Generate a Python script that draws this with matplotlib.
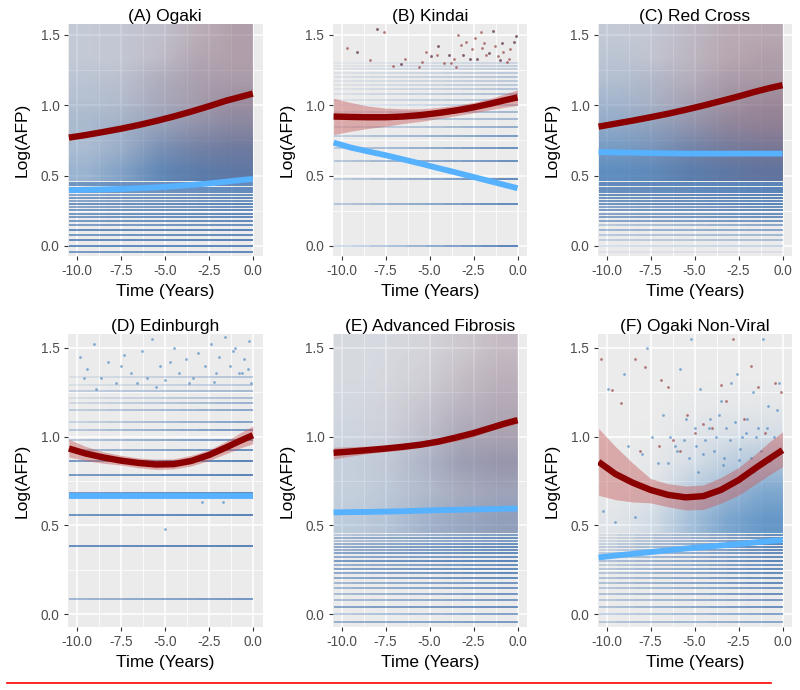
import matplotlib
matplotlib.use("Agg")
from matplotlib import pyplot as plt
from matplotlib.collections import LineCollection
from matplotlib.colors import LinearSegmentedColormap
from matplotlib.lines import Line2D

plt.rcParams['font.family'] = ['Liberation Sans', 'DejaVu Sans']

titles = ['(A) Ogaki', '(B) Kindai', '(C) Red Cross',
          '(D) Edinburgh', '(E) Advanced Fibrosis', '(F) Ogaki Non-Viral']

# smooth curves, read at these times
curve_x = [-10.45, -9.5, -8.5, -7.5, -6.5, -5.5, -4.5, -3.5, -2.5, -1.5, -.75, 0]
red_a = [.77, .788, .81, .833, .859, .888, .92, .955, .993, 1.033, 1.058, 1.083]
red_b = [.92, .917, .915, .915, .92, .93, .945, .963, .985, 1.012, 1.035, 1.056]
red_c = [.848, .869, .891, .915, .94, .968, .998, 1.03, 1.063, 1.098, 1.122, 1.143]
red_d = [.933, .905, .883, .865, .852, .843, .845, .863, .896, .94, .975, 1.008]
red_e = [.909, .916, .924, .933, .943, .955, .972, .995, 1.02, 1.05, 1.073, 1.093]
red_f = [.858, .79, .74, .70, .672, .658, .665, .70, .755, .825, .875, .924]
blue_a = [.396, .399, .402, .405, .41, .416, .424, .433, .444, .457, .467, .476]
blue_b = [.735, .70, .672, .645, .615, .585, .553, .522, .49, .458, .434, .41]
blue_c = [.668, .665, .663, .66, .658, .656, .656, .656, .656, .656, .656, .656]
blue_d = [.665, .665, .665, .665, .665, .665, .665, .665, .665, .665, .665, .665]
blue_e = [.573, .575, .576, .578, .58, .583, .586, .588, .59, .592, .594, .595]
blue_f = [.32, .33, .34, .35, .36, .37, .378, .387, .395, .405, .412, .417]

# ribbons round the red curve (the others are too thin to matter)
upper_b = [1.05, 1.02, .995, .98, .975, .975, .985, 1.0, 1.02, 1.05, 1.08, 1.11]
lower_b = [.79, .815, .835, .85, .87, .885, .905, .925, .947, .97, .985, 1.0]
upper_d = [.985, .945, .915, .895, .88, .873, .875, .895, .925, .975, 1.02, 1.06]
lower_d = [.885, .865, .85, .84, .825, .815, .818, .835, .865, .905, .935, .96]
upper_e = [.94, .943, .947, .95, .96, .975, .99, 1.015, 1.04, 1.07, 1.09, 1.11]
lower_e = [.875, .89, .905, .915, .925, .94, .955, .975, 1.0, 1.035, 1.055, 1.075]
upper_f = [1.046, .945, .85, .764, .735, .722, .728, .77, .826, .905, .97, 1.027]
lower_f = [.67, .645, .632, .627, .605, .587, .59, .625, .67, .735, .785, .83]

# how dark the point cloud looks, bottom row first, from y=.46 up to the top
cloud_blue_a = [[.45, .6, .8, .85, .85], [.35, .45, .65, .7, .75], [.35, .4, .45, .5, .55],
                [.3, .3, .35, .35, .4], [.25, .25, .3, .3, .3], [.2, .2, .2, .25, .25], [.2, .2, .2, .2, .25]]
cloud_red_a = [[.05, .08, .12, .2, .25], [.06, .1, .18, .28, .32], [.08, .12, .2, .3, .35],
               [.08, .12, .22, .32, .4], [.08, .12, .22, .32, .35], [.08, .1, .18, .3, .35], [.08, .1, .15, .28, .35]]
cloud_blue_c = [[.8, .8, .85, .85, .85], [.65, .65, .7, .7, .7], [.5, .5, .5, .5, .5],
                [.4, .35, .35, .35, .4], [.3, .3, .25, .3, .3], [.25, .2, .2, .2, .25], [.2, .2, .2, .2, .2]]
cloud_red_c = [[.05, .1, .18, .25, .3], [.07, .14, .25, .35, .4], [.08, .16, .28, .4, .45],
               [.08, .16, .28, .4, .45], [.08, .14, .25, .35, .38], [.08, .12, .22, .32, .35], [.08, .1, .2, .3, .32]]
cloud_blue_e = [[.25, .3, .4, .45, .5], [.2, .25, .3, .35, .4], [.2, .22, .32, .42, .45],
                [.15, .15, .22, .3, .3], [.12, .12, .16, .22, .25], [.1, .1, .12, .15, .2], [.1, .1, .1, .12, .15]]
cloud_red_e = [[.03, .05, .1, .15, .18], [.03, .06, .12, .2, .22], [.04, .08, .15, .25, .3],
               [.04, .08, .15, .25, .3], [.04, .08, .14, .22, .28], [.04, .06, .1, .2, .25], [.04, .05, .08, .15, .22]]
cloud_blue_f = [[.06, .15, .4, .62, .75], [.02, .06, .28, .45, .6], [.01, .03, .12, .25, .35],
                [0, .01, .06, .1, .12], [0, 0, .02, .03, .04], [0, 0, 0, 0, 0], [0, 0, 0, 0, 0]]

# rows of repeated lab values: level, darkness at the left end, at the right end
levels_low = [-.046, 0, .041, .079, .114, .146, .176, .204, .23, .255,
              .279, .301, .322, .342, .362, .38, .398, .415, .431, .447]
left_a = [.7, .85, .8, .7, .8, .65, .7, .7, .7, .7, .6, .75, .6, .7, .6, .7, .7, .7, .75, .75]
right_a = [.85, .9, .9, .85, .9, .8, .85, .85, .85, .85, .8, .9, .8, .85, .8, .85, .85, .85, .85, .85]
left_c = [.08, .2, .25, .3, .45, .3, .6, .65, .6, .7, .6, .75, .75, .75, .8, .8, .8, .8, .85, .85]
right_c = [.1, .3, .4, .45, .6, .6, .75, .8, .8, .85, .8, .9, .85, .9, .9, .9, .9, .9, .9, .9]
left_e = [.5, .35, .6, .4, .4, .45, .45, .55, .55, .6, .5, .7, .55, .6, .5, .55, .5, .35, .5, .3]
right_e = [.7, .7, .8, .7, .75, .75, .75, .85, .85, .85, .8, .9, .8, .85, .8, .85, .8, .7, .8, .7]
left_f = [.3, .3, .35, .3, .35, .3, .35, .35, .3, .3, .25, .35, .25, .25, .2, .25, .2, .15, .15, .1]
right_f = [.6, .7, .8, .7, .8, .75, .85, .85, .85, .85, .8, .9, .85, .85, .85, .9, .9, .85, .85, .85]

levels_b = [0, .301, .477, .602, .699, .778, .845, .903, .954, 1.0,
            1.041, 1.079, 1.114, 1.146, 1.176, 1.204, 1.23, 1.255, 1.279, 1.301]
left_b = [.2, .3, .25, .3, .25, .25, .15, .1, .1, .1, .08, .1, .08, .08, .08, .1, .08, .08, .05, .05]
right_b = [.95, .85, .85, .8, .8, .7, .55, .45, .45, .4, .4, .4, .35, .3, .3, .35, .3, .25, .25, .2]

levels_d = [.085, .385, .56, .68, .785, .86, .925, .98, 1.035, 1.08,
            1.15, 1.19, 1.22, 1.255, 1.29, 1.335]
left_d = [.45, .8, .75, .7, .7, .7, .4, .3, .3, .2, .25, .15, .12, .25, .1, .1]
right_d = [.75, .9, .9, .85, .9, .9, .8, .8, .75, .65, .6, .5, .4, .45, .3, .35]

# loose points
pts_b_x = [-8, -7.6, -9.7, -6.6, -6.4, -5.2, -4.9, -4.6, -4.2, -3.9, -3.6, -3.4, -3.1, -2.9, -2.6, -2.3,
           -2.1, -1.9, -1.6, -1.3, -1.1, -.9, -.6, -.4, -.1, -5.6, -5.4, -4.5, -3.8, -3.2, -2.7, -2.4,
           -1.8, -1.4, -.8, -.5, -.2, -7.1, -8.4, -9.1, -3.5, -2, -1]
pts_b_y = [1.54, 1.52, 1.41, 1.29, 1.33, 1.38, 1.35, 1.36, 1.3, 1.36, 1.33, 1.5, 1.36, 1.45, 1.4, 1.33,
           1.52, 1.44, 1.37, 1.42, 1.35, 1.44, 1.31, 1.4, 1.49, 1.27, 1.31, 1.42, 1.3, 1.43, 1.33, 1.48,
           1.36, 1.53, 1.38, 1.33, 1.45, 1.28, 1.32, 1.38, 1.27, 1.41, 1.32]
pts_d_x = [-9.8, -9.4, -9, -8.6, -8.2, -7.8, -7.3, -6.9, -6.3, -6, -5.7, -5.3, -5, -4.5, -4.2, -3.8,
           -3.4, -3.1, -2.7, -2.4, -2.1, -1.9, -1.6, -1.3, -1, -.8, -.5, -.3, -.1, -9.6, -8.9, -7.5,
           -6.6, -5.5, -4.7, -3.6, -2.9, -2.2, -1.7, -1.1, -.6, -.2, -5]
pts_d_y = [1.45, 1.38, 1.52, 1.33, 1.42, 1.3, 1.46, 1.36, 1.48, 1.33, 1.55, 1.4, 1.32, 1.5, 1.36, 1.44,
           1.33, 1.47, 1.4, 1.52, 1.36, 1.45, 1.56, 1.4, 1.5, 1.36, 1.44, 1.38, 1.3, 1.33, 1.27, 1.4,
           1.3, 1.28, 1.42, 1.3, .63, 1.31, .63, 1.48, 1.36, 1.54, .48]
pts_f_blue_x = [-10.2, -9.9, -9.5, -9, -8.8, -8.4, -8, -7.7, -7.4, -7.1, -6.8, -6.4, -6.1, -5.8, -5.5, -5.2,
                -5, -4.7, -4.4, -4.1, -3.8, -3.5, -3.2, -2.9, -2.6, -2.3, -2, -1.7, -1.4, -1.1, -.8, -.5,
                -.2, -6.5, -6, -5.6, -5.3, -4.9, -4.5, -4.2, -3.9, -3.6, -3.3, -3, -2.7, -2.4, -2.1, -1.8,
                -1.5, -1.2, -.9, -.6, -.3, -4.8, -3.4, -2.5, -1.6, -.7]
pts_f_blue_y = [.58, 1.27, .52, 1.35, .95, .55, .9, 1.5, 1.0, .85, 1.12, 1.0, .95, 1.38, 1.1, 1.55,
                1.05, 1.27, .98, 1.1, 1.0, 1.2, 1.05, 1.3, 1.35, 1.0, 1.1, 1.25, 1.05, 1.55, 1.17, 1.0,
                1.3, .85, .92, .98, .88, .95, .9, 1.05, .92, 1.12, .88, .98, 1.08, .93, 1.02, .88,
                1.0, .92, 1.05, .9, 1.15, .8, .84, .87, .8, .86]
pts_f_red_x = [-10.3, -9.7, -9.2, -8.4, -8.1, -7.8, -6.9, -6.5, -6.2, -5.4, -5, -4.5, -4, -3.5, -3.2, -2.8,
               -2.2, -1.8, -1.4, -1, -.4, -.1, -7, -5.8]
pts_f_red_y = [1.44, 1.26, 1.19, 1.44, .92, 1.39, 1.32, 1.28, .98, 1.12, 1.02, 1.07, 1.05, 1.29, 1.2, 1.55,
               1.1, 1.4, 1.28, 1.02, 1.3, 1.25, .95, .92]

panels = [
    dict(red=red_a, blue=blue_a, levels=levels_low, left=left_a, right=right_a,
         cloud=(cloud_blue_a, cloud_red_a)),
    dict(red=red_b, blue=blue_b, band=(upper_b, lower_b), levels=levels_b, left=left_b, right=right_b,
         pts=[(pts_b_x[::3], pts_b_y[::3], '#3A7CBC'), (pts_b_x, pts_b_y, '#8B2A2A')]),
    dict(red=red_c, blue=blue_c, levels=levels_low, left=left_c, right=right_c,
         cloud=(cloud_blue_c, cloud_red_c)),
    dict(red=red_d, blue=blue_d, band=(upper_d, lower_d), levels=levels_d, left=left_d, right=right_d,
         pts=[(pts_d_x, pts_d_y, '#3A7CBC')]),
    dict(red=red_e, blue=blue_e, band=(upper_e, lower_e), levels=levels_low, left=left_e, right=right_e,
         cloud=(cloud_blue_e, cloud_red_e)),
    dict(red=red_f, blue=blue_f, band=(upper_f, lower_f), levels=levels_low, left=left_f, right=right_f,
         cloud=(cloud_blue_f, None),
         pts=[(pts_f_blue_x, pts_f_blue_y, '#3A7CBC'), (pts_f_red_x, pts_f_red_y, '#8B2A2A')]),
]

W, H = 800., 690.
lefts = [68., 332.7, 597.7]
boxes = [(24., 256.), (334., 627.)]

cmap_blue = LinearSegmentedColormap.from_list('b', [(.23, .49, .74, 0), (.23, .49, .74, 1)])
cmap_red = LinearSegmentedColormap.from_list('r', [(.55, .15, .15, 0), (.55, .15, .15, 1)])

fig = plt.figure(figsize=(8, 6.9), dpi=100)


def draw_rows(ax, p):
    # each row fades from its left value to its right value
    for lev, a0, a1 in zip(p['levels'], p['left'], p['right']):
        segs, cols = [], []
        for k in range(10):
            x0 = -10.45 + k * 1.045
            segs.append([(x0, lev), (x0 + 1.045, lev)])
            a = a0 + (a1 - a0) * (k + .5) / 10
            cols.append((.10, .34, .64, a))
        ax.add_collection(LineCollection(segs, colors=cols, linewidths=1.1, zorder=2, capstyle='butt'))


for i, p in enumerate(panels):
    top, bottom = boxes[i // 3]
    ax = fig.add_axes([lefts[i % 3] / W, 1 - bottom / H, 194.5 / W, (bottom - top) / H])
    ax.set_facecolor('#EBEBEB')
    ax.set_axisbelow(True)
    for s in ax.spines.values():
        s.set_visible(False)
    ax.set_xticks([-10, -7.5, -5, -2.5, 0])
    ax.set_xticklabels(['-10.0', '-7.5', '-5.0', '-2.5', '0.0'])
    ax.set_yticks([0, .5, 1, 1.5])
    ax.set_yticklabels(['0.0', '0.5', '1.0', '1.5'])
    ax.set_xticks([-8.75, -6.25, -3.75, -1.25], minor=True)
    ax.set_yticks([.25, .75, 1.25], minor=True)
    ax.grid(which='major', color='white', lw=1.1)
    ax.grid(which='minor', color='white', lw=.55)
    ax.tick_params(which='minor', length=0)
    ax.tick_params(which='major', length=3, width=.8, color='#333333', labelcolor='#4D4D4D',
                   labelsize=9.8, pad=3)

    if 'cloud' in p:
        c_blue, c_red = p['cloud']
        ax.imshow(c_blue, extent=(-10.45, 0, .46, 1.578), origin='lower', aspect='auto',
                  interpolation='bilinear', cmap=cmap_blue, vmin=0, vmax=1, zorder=1.5)
        if c_red is not None:
            ax.imshow(c_red, extent=(-10.45, 0, .46, 1.578), origin='lower', aspect='auto',
                      interpolation='bilinear', cmap=cmap_red, vmin=0, vmax=1.25, zorder=1.6)
    draw_rows(ax, p)
    for px, py, col in p.get('pts', []):
        ax.scatter(px, py, s=4, color=col, alpha=.6, linewidths=0, zorder=2.2)

    if 'band' in p:
        ax.fill_between(curve_x, p['band'][1], p['band'][0], color='#C65B5B', alpha=.45, lw=0, zorder=3)
    ax.plot(curve_x, p['blue'], color='#56B1FF', lw=4.2, solid_capstyle='butt', zorder=4)
    ax.plot(curve_x, p['red'], color='#8B0000', lw=4.6, solid_capstyle='butt', zorder=5)

    ax.set_xlim(-10.5, 0.55)
    ax.set_ylim(-.072, 1.578)
    ax.set_title(titles[i], fontsize=12.5, color='black', pad=1)
    ax.set_xlabel('Time (Years)', fontsize=12.5, labelpad=4)
    ax.set_ylabel('Log(AFP)', fontsize=12.5, labelpad=8)

fig.add_artist(Line2D([7 / W, 771 / W], [1 - 682.5 / H] * 2, color='red', lw=1.2))
fig.savefig('out.png', dpi=100)
